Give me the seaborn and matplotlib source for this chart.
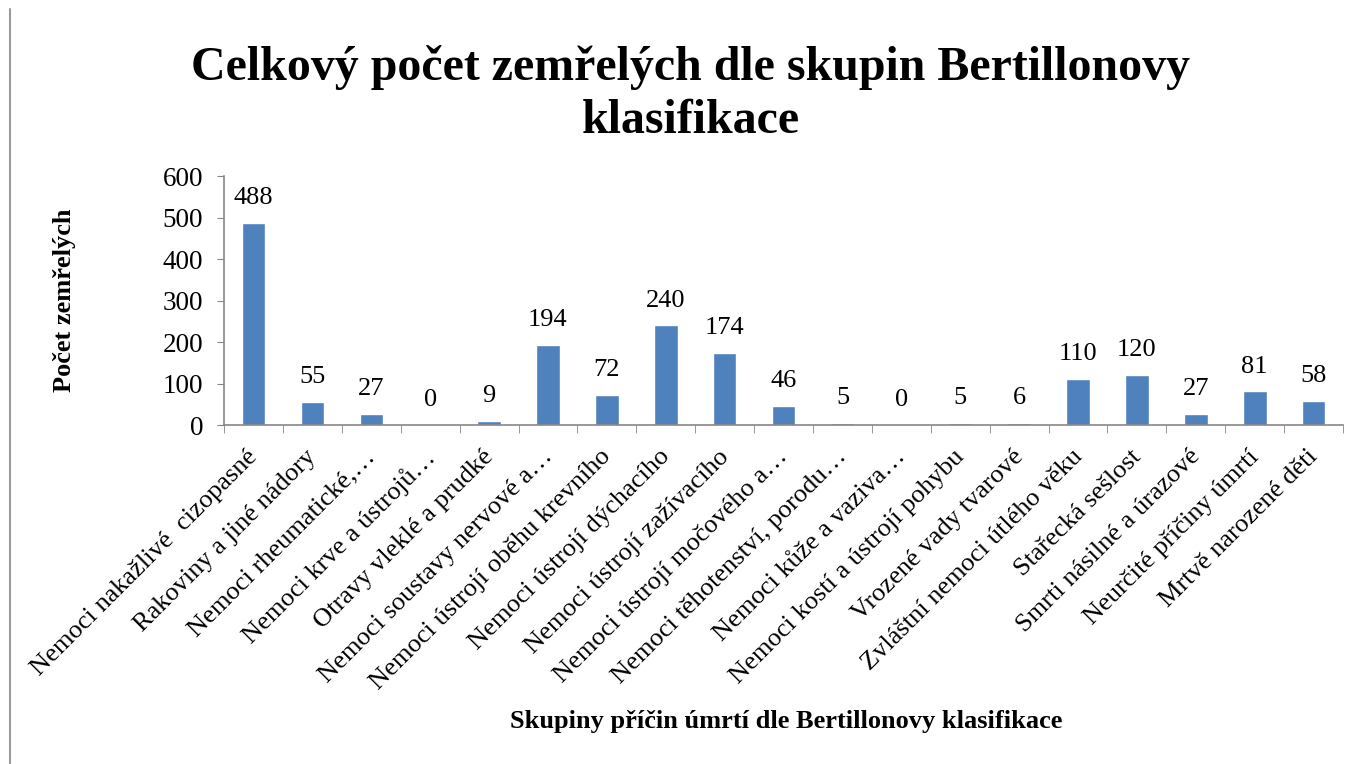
"""
Bar chart of deaths by Bertillon classification groups
"""

import matplotlib
matplotlib.use("Agg")
import matplotlib.pyplot as plt
import matplotlib.transforms as mtransforms
from matplotlib.lines import Line2D
import numpy as np
import pandas as pd
import seaborn as sns

categories = [
    "Nemoci nakažlivé  cizopasné",
    "Rakoviny a jiné nádory",
    "Nemoci rheumatické,…",
    "Nemoci krve a ústrojů…",
    "Otravy vleklé a prudké",
    "Nemoci soustavy nervové a…",
    "Nemoci ústrojí oběhu krevního",
    "Nemoci ústrojí dýchacího",
    "Nemoci ústrojí zažívacího",
    "Nemoci ústrojí močového a…",
    "Nemoci těhotenství, porodu…",
    "Nemoci kůže a vaziva…",
    "Nemoci kostí a ústrojí pohybu",
    "Vrozené vady tvarové",
    "Zvláštní nemoci útlého věku",
    "Stařecká sešlost",
    "Smrti násilné a úrazové",
    "Neurčité příčiny úmrtí",
    "Mrtvě narozené děti",
]
deaths = [488, 55, 27, 0, 9, 194, 72, 240, 174, 46, 5, 0, 5, 6, 110, 120, 27, 81, 58]
yticks = [0, 100, 200, 300, 400, 500, 600]

sns.set_style("white")
plt.rcParams["font.family"] = ["Liberation Serif", "DejaVu Serif"]
plt.rcParams["text.color"] = "black"
plt.rcParams["xtick.color"] = "black"
plt.rcParams["ytick.color"] = "black"

df = pd.DataFrame({"group": categories, "count": deaths})

fig = plt.figure(figsize=(13.62, 7.64), dpi=100)
ax = fig.add_axes([0.1645, 0.4437, 0.8216, 0.3259])

sns.barplot(data=df, x="group", y="count", color="#4F81BD", saturation=1,
            width=0.4, ax=ax)

ax.bar_label(ax.containers[0], labels=[str(v) for v in deaths],
             padding=10, fontsize=19)

ax.set_ylim(0, 600)
ax.set_yticks(yticks)
ax.set_xlim(-0.5, len(categories) - 0.5)
ax.tick_params(axis="y", labelsize=19.5, length=5, color="#868686", direction="out", left=True, pad=10)

# category labels at bar centres, tick marks on boundaries
ax.set_xticks(np.arange(len(categories)))
ax.set_xticklabels(categories, rotation=45, ha="right", rotation_mode="anchor", fontsize=19)
ax.tick_params(axis="x", which="major", length=0, pad=4)
ax.set_xticks(np.arange(len(categories) + 1) - 0.5, minor=True)
ax.tick_params(axis="x", which="minor", length=6, color="#868686", direction="out", bottom=True)
shift = mtransforms.ScaledTranslation(-7 / 100, -15 / 100, fig.dpi_scale_trans)
for lab in ax.get_xticklabels():
    lab.set_transform(lab.get_transform() + shift)

for s in ["top", "right"]:
    ax.spines[s].set_visible(False)
for s in ["left", "bottom"]:
    ax.spines[s].set_color("#868686")
    ax.spines[s].set_linewidth(1.2)

ax.set_xlabel("")
ax.set_ylabel("")
fig.text(0.047, 0.607, "Počet zemřelých", rotation=90, ha="center", va="center",
         fontsize=19, fontweight="bold")
fig.text(0.577, 0.055, "Skupiny příčin úmrtí dle Bertillonovy klasifikace", ha="center",
         va="center", fontsize=19, fontweight="bold")
fig.text(0.507, 0.877, "Celkový počet zemřelých dle skupin Bertillonovy\nklasifikace",
         ha="center", va="center", fontsize=34.5, fontweight="bold", linespacing=1.26)

# chart area border on the left edge
fig.add_artist(Line2D([0.0075, 0.0075], [0.0, 0.988], color="#9a9a9a", linewidth=1.5))

fig.savefig("out.png", dpi=100)
